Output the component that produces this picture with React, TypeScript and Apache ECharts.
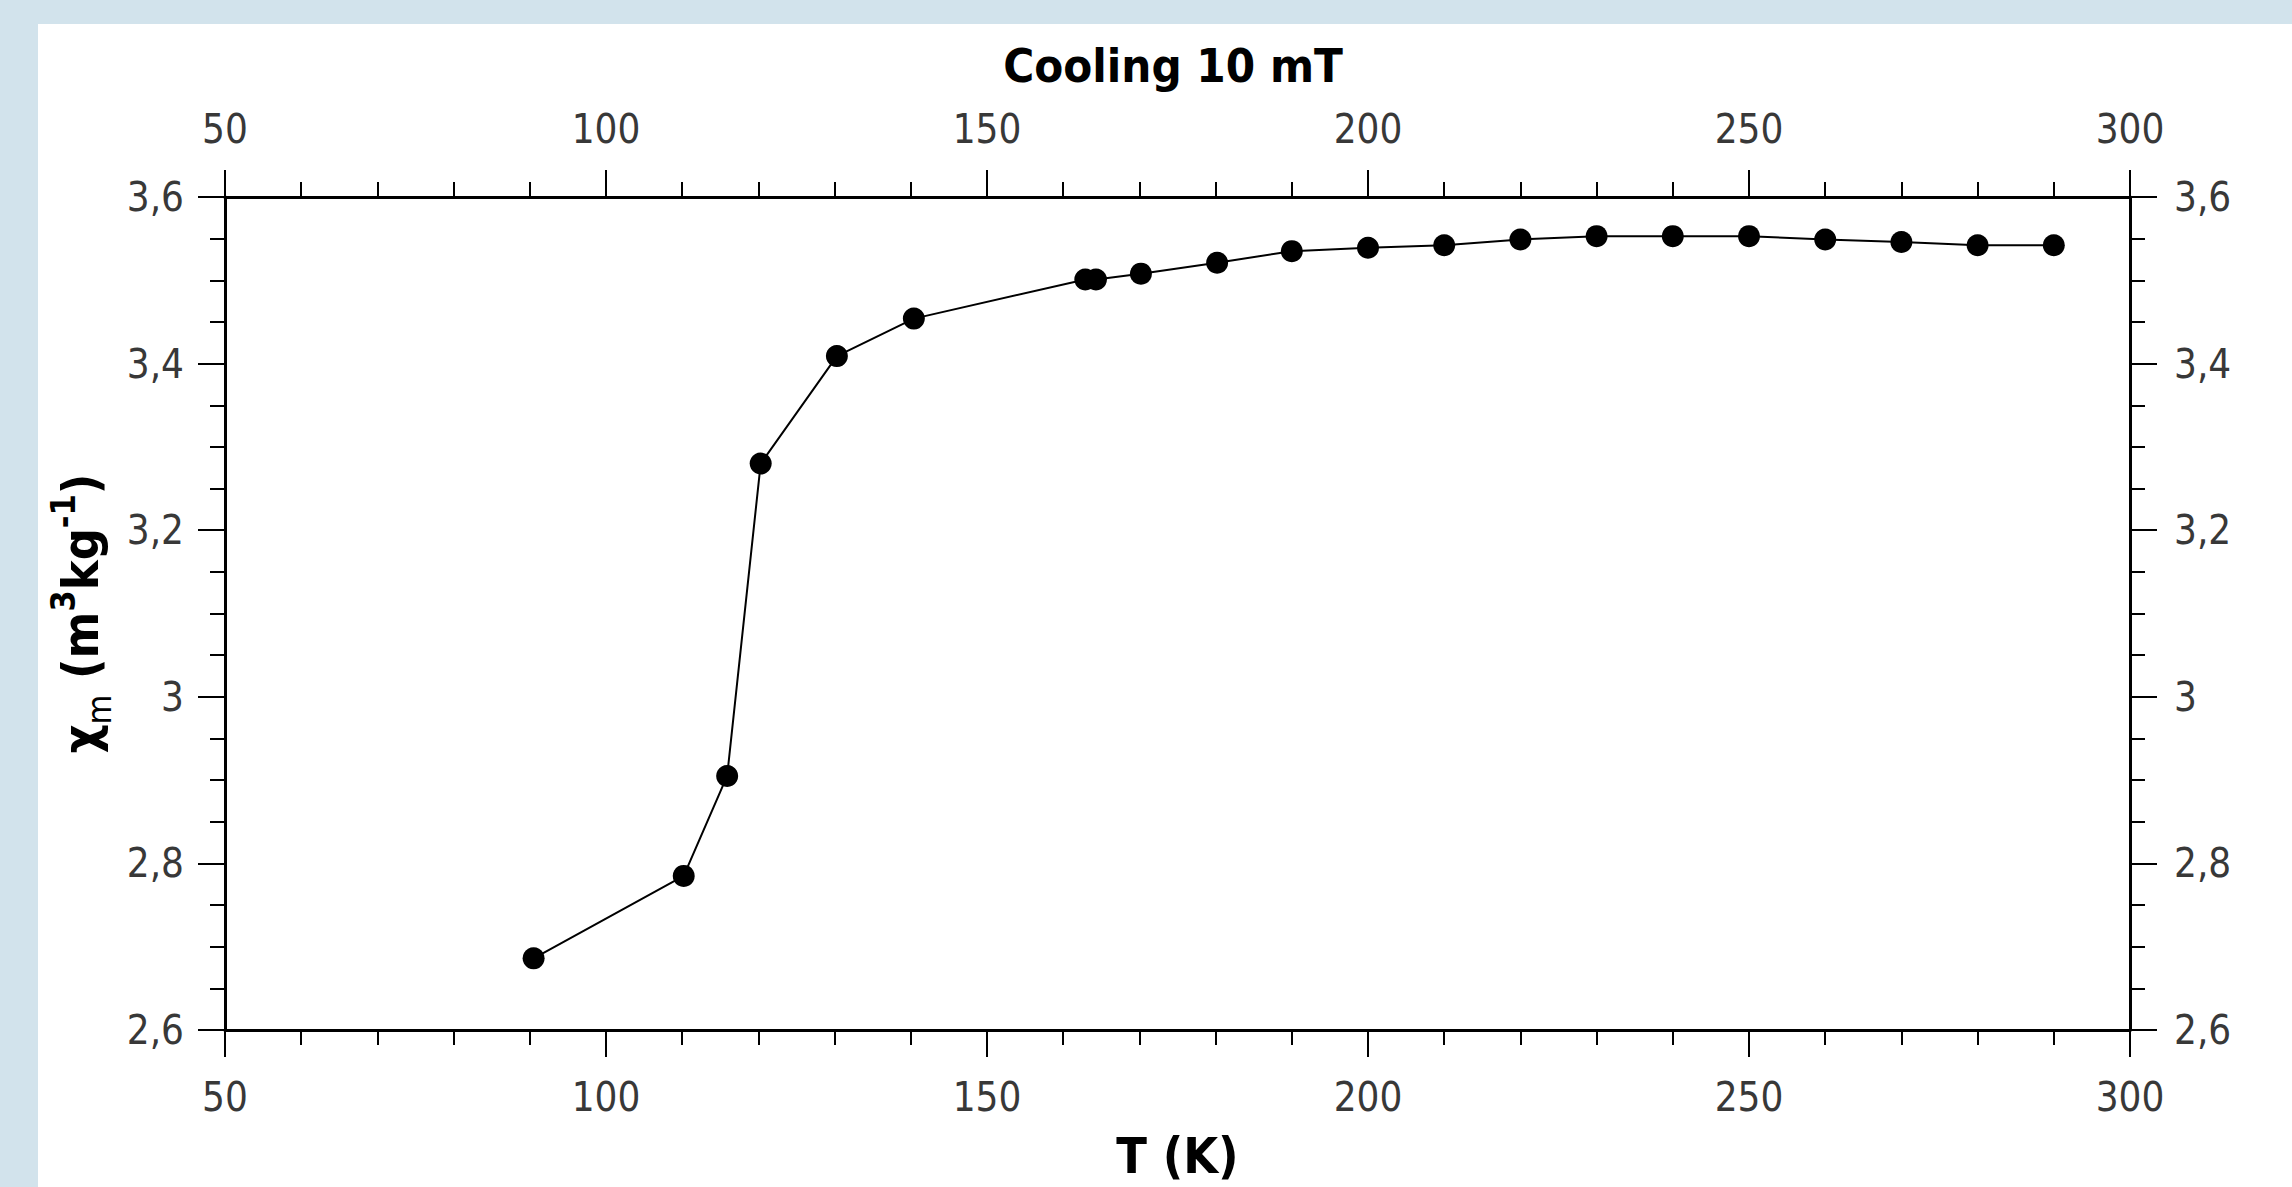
import React, { useEffect, useRef } from 'react';
import * as echarts from 'echarts';

// Temperature (K) and mass susceptibility values
const temperatureK = [90.5, 110.2, 115.9, 120.3, 130.3, 140.4, 162.9, 164.3, 170.2, 180.2, 190, 200, 210, 220, 230, 240, 250, 260, 270, 280, 290];
const chiM = [2.686, 2.785, 2.905, 3.28, 3.409, 3.454, 3.501, 3.501, 3.508, 3.521, 3.535, 3.539, 3.542, 3.549, 3.553, 3.553, 3.553, 3.549, 3.546, 3.542, 3.542];

// Axis tick values
const xTickValues = [50, 100, 150, 200, 250, 300];
const yTickValues = [2.6, 2.8, 3.0, 3.2, 3.4, 3.6];

const chartTitle = 'Cooling 10 mT';
const xAxisName = 'T (K)';
const yAxisName = '{b|χ}{sub|m}{b| (m}{sup|3}{b|kg}{sup|-1}{b|)}';

const FONT = '"DejaVu Sans Condensed", "DejaVu Sans", sans-serif';

const fmtY = (v: number) => String(Math.round(v * 10) / 10).replace('.', ',');

export default function App() {
  const ref = useRef<HTMLDivElement>(null);

  useEffect(() => {
    if (!ref.current) return;
    const chart = echarts.init(ref.current, null, { renderer: 'svg' });

    const xMin = xTickValues[0];
    const xMax = xTickValues[xTickValues.length - 1];
    const xInt = xTickValues[1] - xTickValues[0];
    const yMin = yTickValues[0];
    const yMax = yTickValues[yTickValues.length - 1];
    const yInt = Math.round((yTickValues[1] - yTickValues[0]) * 10) / 10;

    const axisCommon = {
      type: 'value' as const,
      axisLine: { show: true, onZero: false, lineStyle: { color: '#000', width: 3 } },
      axisTick: { show: true, inside: false, length: 27, lineStyle: { color: '#000', width: 2 } },
      splitLine: { show: false },
    };
    const labelStyle = { color: '#383838', fontFamily: FONT, fontSize: 40 };

    const xAxisBase = {
      ...axisCommon,
      min: xMin,
      max: xMax,
      interval: xInt,
      minorTick: { show: true, splitNumber: 5, length: 15, lineStyle: { color: '#000', width: 2 } },
    };
    const yAxisBase = {
      ...axisCommon,
      min: yMin,
      max: yMax,
      interval: yInt,
      minorTick: { show: true, splitNumber: 4, length: 15, lineStyle: { color: '#000', width: 2 } },
    };

    chart.setOption({
      animation: false,
      backgroundColor: 'transparent',
      grid: { left: 225, right: 162, top: 197, bottom: 157, containLabel: false },
      graphic: [
        {
          type: 'text',
          x: 1173,
          y: 65,
          style: {
            text: chartTitle,
            font: `bold 47px ${FONT}`,
            fill: '#000',
            textAlign: 'center',
            textVerticalAlign: 'middle',
          },
        },
      ],
      xAxis: [
        {
          ...xAxisBase,
          position: 'bottom',
          name: xAxisName,
          nameLocation: 'middle',
          nameGap: 101,
          nameTextStyle: { fontFamily: FONT, fontWeight: 'bold', fontSize: 50, color: '#000' },
          axisLabel: { ...labelStyle, margin: 47 },
        },
        {
          ...xAxisBase,
          position: 'top',
          axisLabel: { ...labelStyle, margin: 48 },
        },
      ],
      yAxis: [
        {
          ...yAxisBase,
          position: 'left',
          name: yAxisName,
          nameLocation: 'middle',
          nameRotate: 90,
          nameGap: 105,
          nameTextStyle: {
            rich: {
              b: { fontFamily: FONT, fontWeight: 'bold', fontSize: 50, lineHeight: 70, color: '#000' },
              sub: { fontFamily: FONT, fontSize: 34, lineHeight: 44, verticalAlign: 'bottom', color: '#000' },
              sup: { fontFamily: FONT, fontWeight: 'bold', fontSize: 34, lineHeight: 36, verticalAlign: 'top', color: '#000' },
            },
          },
          axisLabel: { ...labelStyle, margin: 41, formatter: fmtY },
        },
        {
          ...yAxisBase,
          position: 'right',
          axisLabel: { ...labelStyle, margin: 44, formatter: fmtY },
        },
      ],
      series: [
        {
          type: 'line',
          xAxisIndex: 0,
          yAxisIndex: 0,
          data: temperatureK.map((t, i) => [t, chiM[i]]),
          symbol: 'circle',
          symbolSize: 22,
          itemStyle: { color: '#000' },
          lineStyle: { color: '#000', width: 2 },
        },
      ],
    });

    return () => chart.dispose();
  }, []);

  return (
    <div style={{ position: 'fixed', left: 0, top: 0, width: 2292, height: 1187, background: '#d2e3ec' }}>
      <div style={{ position: 'absolute', left: 38, top: 24, right: 0, bottom: 0, background: '#ffffff' }} />
      <div ref={ref} style={{ position: 'absolute', left: 0, top: 0, width: 2292, height: 1187 }} />
    </div>
  );
}
